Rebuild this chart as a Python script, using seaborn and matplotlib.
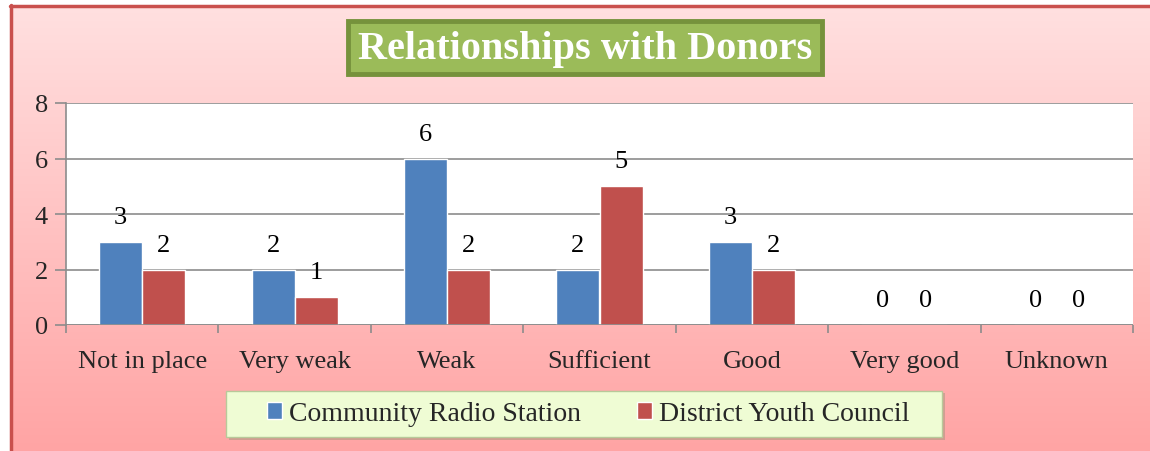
import numpy as np
import pandas as pd
import matplotlib
matplotlib.use("Agg")
import matplotlib.pyplot as plt
import seaborn as sns
from matplotlib.patches import Rectangle, Patch

# data
categories = ["Not in place", "Very weak", "Weak", "Sufficient", "Good", "Very good", "Unknown"]
radio = [3, 2, 6, 2, 3, 0, 0]
youth = [2, 1, 2, 5, 2, 0, 0]
series_names = ["Community Radio Station", "District Youth Council"]
colors = ["#4f81bd", "#c0504d"]
y_ticks = [0, 2, 4, 6, 8]

df = pd.DataFrame({
    "category": categories * 2,
    "value": radio + youth,
    "series": [series_names[0]] * len(categories) + [series_names[1]] * len(categories),
})

sns.set_theme(style="white")
plt.rcParams['font.family'] = ['Liberation Serif', 'DejaVu Serif']

W, H = 1150, 452
fig = plt.figure(figsize=(W / 100, H / 100), dpi=100)
fig.patch.set_facecolor("white")

# pink gradient background
bg = fig.add_axes([10 / W, 0, 1 - 10 / W, 1 - 6 / H], zorder=-5)
grad = np.linspace(0, 1, 256).reshape(-1, 1)
top = np.array([255, 224, 224]) / 255
bot = np.array([255, 164, 164]) / 255
img = top + (bot - top) * grad[..., None]
img = img.reshape(256, 1, 3)
bg.imshow(img, aspect="auto", extent=[0, 1, 0, 1], origin="upper")
bg.set_axis_off()
# chart border (left and top)
fig.add_artist(plt.Line2D([11 / W, 11 / W], [0, 1 - 6 / H], color="#c9504d", lw=2.5))
fig.add_artist(plt.Line2D([10 / W, 1], [1 - 7 / H, 1 - 7 / H], color="#c9504d", lw=2.5))

# plot area
x0, x1, yt, yb = 66, 1133, 104, 326
ax = fig.add_axes([x0 / W, 1 - yb / H, (x1 - x0) / W, (yb - yt) / H])
ax.set_facecolor("white")

sns.barplot(data=df, x="category", y="value", hue="series", palette=colors,
            width=0.565, saturation=1, ax=ax, legend=False, zorder=3)

for cont in ax.containers:
    ax.bar_label(cont, padding=10, fontsize=19, color="black")

ax.set_ylim(0, 8)
ax.set_yticks(y_ticks)
ax.set_xlim(-0.5, len(categories) - 0.5)
ax.yaxis.grid(True, color="#8c8c8c", lw=1.2, zorder=0)
ax.set_axisbelow(True)
for s in ["top", "right", "bottom"]:
    ax.spines[s].set_visible(False)
ax.spines["left"].set_color("#8c8c8c")
ax.spines["left"].set_linewidth(1.2)
ax.axhline(0, color="#8c8c8c", lw=1.2, zorder=4)
ax.tick_params(axis="y", which="major", left=True, length=8, width=1.2,
               color="#8c8c8c", labelsize=19, pad=5)
ax.tick_params(axis="x", which="major", bottom=False, labelsize=19, pad=12)
ax.set_xticks(np.arange(-0.5, len(categories)), minor=True)
ax.tick_params(axis="x", which="minor", bottom=True, length=6, width=1.2, color="#8c8c8c")
ax.set_xlabel("")
ax.set_ylabel("")

# title box
fig.add_artist(Rectangle((348 / W, 1 - 75 / H), 474 / W, 53 / H, transform=fig.transFigure,
                         facecolor="#9bbb59", edgecolor="#76923c", lw=3.5))
fig.text(585 / W, 1 - 49 / H, "Relationships with Donors", ha="center", va="center",
         fontsize=29, fontweight="bold", color="white")

# legend box
fig.add_artist(Rectangle((229 / W, 1 - 441 / H), 716 / W, 47 / H, transform=fig.transFigure,
                         facecolor="#7a8f6a", edgecolor="none", alpha=0.35))
fig.add_artist(Rectangle((226 / W, 1 - 438 / H), 716 / W, 46 / H, transform=fig.transFigure,
                         facecolor="#effcd4", edgecolor="#b8c99a", lw=1))
handles = [Patch(facecolor=c, label=n) for c, n in zip(colors, series_names)]
fig.legend(handles=handles, loc="center", bbox_to_anchor=(588 / W, 1 - 415 / H),
           ncol=2, frameon=False, fontsize=20, handlelength=0.55, handleheight=0.55,
           handletextpad=0.25, columnspacing=2.0)

fig.savefig("out.png", dpi=100)
